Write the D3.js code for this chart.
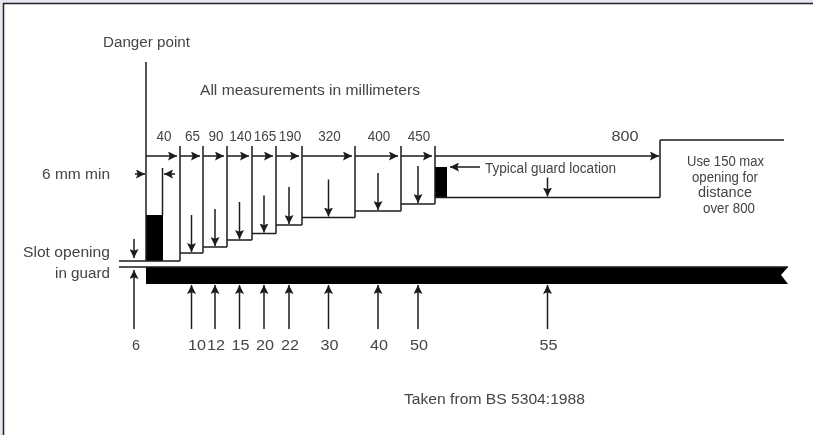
<!DOCTYPE html>
<html>
<head>
<meta charset="utf-8">
<script src="https://cdn.jsdelivr.net/npm/d3@7"></script>
<style>
  html, body { margin: 0; padding: 0; background: #e6e6ee; overflow: hidden; }
  svg { display: block; }
  text { font-family: "Liberation Sans", Arial, sans-serif; font-size: 14px; fill: #444; }
</style>
</head>
<body>
<svg id="chart" width="813" height="435"></svg>
<script>
// distance from the danger point (mm) at the far end of each guard step
const distances = [40, 65, 90, 140, 165, 190, 320, 400, 450, 800];
// largest slot opening allowed in each of those steps (mm)
const openings = [6, 10, 12, 15, 20, 22, 30, 40, 50, 55];
const maxOpening = 150;
const farDistance = 1000;

const svg = d3.select("#chart");
const ink = "#1c1c1c";

// the drawing is not to scale, so both scales are piecewise
const x = d3.scaleLinear()
  .domain([0].concat(distances, farDistance))
  .range([146, 180, 203, 227, 252, 276, 302, 355, 401, 435, 660, 784]);
const y = d3.scaleLinear()
  .domain([0].concat(openings, maxOpening))
  .range([267, 261, 253, 247, 240, 233.5, 225, 217.5, 211, 204, 197.5, 140]);

const steps = distances.map((d, i) => ({
  from: i ? distances[i - 1] : 0,
  to: d,
  opening: openings[i]
}));
const mid = d => (x(d.from) + x(d.to)) / 2;

svg.append("defs").append("filter").attr("id", "soft")
  .attr("x", "-5%").attr("y", "-5%").attr("width", "110%").attr("height", "110%")
  .append("feGaussianBlur").attr("stdDeviation", 0.55);

svg.select("defs").append("marker")
  .attr("id", "head")
  .attr("viewBox", "0 0 8 8")
  .attr("refX", 8).attr("refY", 4)
  .attr("markerUnits", "userSpaceOnUse")
  .attr("markerWidth", 9).attr("markerHeight", 9)
  .attr("orient", "auto")
  .append("path").attr("d", "M0,0L8,4L0,8L1.5,4Z").attr("fill", ink);

// page frame
svg.append("rect").attr("x", 3).attr("y", 3).attr("width", 810).attr("height", 432)
  .attr("fill", "#fff");
svg.append("path").attr("d", "M3.5,435V3.5H813")
  .attr("fill", "none").attr("stroke", "#222").attr("stroke-width", 1.5);

const g = svg.append("g").attr("filter", "url(#soft)");

function line(x1, y1, x2, y2, arrow) {
  const l = g.append("line")
    .attr("x1", x1).attr("y1", y1).attr("x2", x2).attr("y2", y2)
    .attr("stroke", ink).attr("stroke-width", 1.5);
  if (arrow) l.attr("marker-end", "url(#head)");
  return l;
}

function note(str, cx, cy, w) {
  g.append("text")
    .attr("x", cx - w / 2).attr("y", cy + 5)
    .attr("textLength", w).attr("lengthAdjust", "spacingAndGlyphs")
    .text(str);
}

// black guard bar with its broken right end
g.append("path")
  .attr("d", `M${x(0)},${y(0)}H788L781,275L788,284H${x(0)}Z`)
  .attr("fill", "#000");

// black blocks: guard at the first step, typical guard location at the last
g.append("rect")
  .attr("x", x(0)).attr("width", 17)
  .attr("y", 215).attr("height", y(openings[0]) - 215)
  .attr("fill", "#000");
g.append("rect")
  .attr("x", x(450)).attr("width", 12)
  .attr("y", 167).attr("height", y(55) - 167)
  .attr("fill", "#000");

// slot edges on the left
line(119, y(0), 788, y(0));
line(119, y(6), x(40), y(6));

// danger point line and the thin 6 mm wall
line(x(0), 62, x(0), y(6));
line(162.5, 168, 162.5, 215);

// stepped profile
g.selectAll(".tread").data(steps.slice(1)).join("line")
  .attr("class", "tread")
  .attr("x1", d => x(d.from)).attr("x2", d => x(d.to))
  .attr("y1", d => y(d.opening)).attr("y2", d => y(d.opening))
  .attr("stroke", ink).attr("stroke-width", 1.5);

// uprights between steps, all rising to the distance line
g.selectAll(".riser").data(steps.slice(0, -1)).join("line")
  .attr("class", "riser")
  .attr("x1", d => x(d.to)).attr("x2", d => x(d.to))
  .attr("y1", 146).attr("y2", d => y(d.opening))
  .attr("stroke", ink).attr("stroke-width", 1.5);

// end of the profile, then the 150 max run
const last = distances[distances.length - 1];
line(x(last), y(openings[openings.length - 1]), x(last), y(maxOpening));
line(x(last), y(maxOpening), x(farDistance), y(maxOpening));

// distance arrows along the top
steps.forEach((d, i) => {
  const tip = x(d.to) - (i === steps.length - 1 ? 1 : 3);
  line(x(d.from), 156, tip, 156, true);
});

// opening arrows down to each tread, up from the guard bar
steps.slice(1).forEach(d => {
  const len = d.opening === 55 ? 20 : 38;
  line(mid(d), y(d.opening) - len, mid(d), y(d.opening) - 1, true);
  line(mid(d), 329, mid(d), 285, true);
});
line(134, 239, 134, y(6) - 3, true);
line(134, 329, 134, y(0) + 3, true);

// 6 mm min arrows
line(135, 174, 145, 174, true);
line(175, 174, 164, 174, true);

// typical guard location arrow
line(480, 167, 450, 167, true);

// step labels
steps.forEach(d => {
  const s = String(d.to);
  if (d.to === 800) note(s, 625, 136, 27);
  else note(s, mid(d) + 1, 136, s.length * 7.5);
});
steps.forEach((d, i) => {
  const s = String(d.opening);
  const cx = i === 0 ? 136 : d.opening === 10 ? 197 : mid(d) + 1;
  note(s, cx, 345, s.length === 1 ? 8 : 18);
});

// annotations
note("Danger point", 146.5, 42, 87);
note("All measurements in millimeters", 310, 90, 220);
note("6 mm min", 76, 174, 68);
note("Slot opening", 66.5, 252, 87);
note("in guard", 82.5, 273, 55);
note("Typical guard location", 550.5, 168, 131);
note("Use 150 max", 725.5, 161, 77);
note("opening for", 725, 177, 66);
note("distance", 725, 192, 54);
note("over 800", 729, 208, 52);
note("Taken from BS 5304:1988", 494.5, 399, 181);
</script>
</body>
</html>
